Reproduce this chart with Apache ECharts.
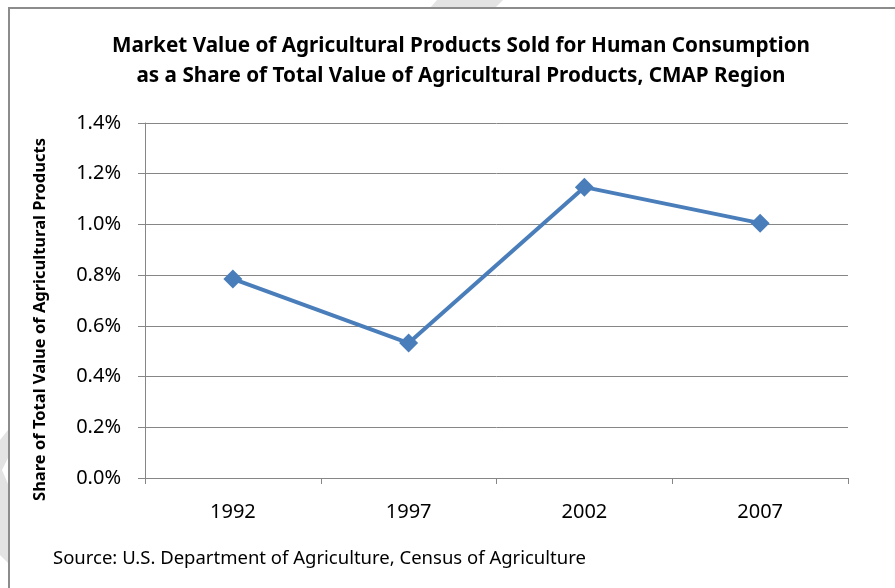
<!DOCTYPE html>
<html>
<head>
<meta charset="utf-8">
<script src="https://cdn.jsdelivr.net/npm/echarts@6/dist/echarts.min.js"></script>
<style>
html,body{margin:0;padding:0;background:#fff;}
#chart{width:895px;height:588px;}
</style>
</head>
<body>
<div id="chart"></div>
<script>
var titleLines = ['Market Value of Agricultural Products Sold for Human Consumption', 'as a Share of Total Value of Agricultural Products, CMAP Region'];
var categories = ['1992', '1997', '2002', '2007'];
var shareValues = [0.785, 0.532, 1.147, 1.005];
var yTicks = { min: 0, max: 1.4, interval: 0.2 };
var yAxisName = 'Share of Total Value of Agricultural Products';
var sourceText = 'Source: U.S. Department of Agriculture, Census of Agriculture';

var FONT = '"Noto Sans", "Open Sans", sans-serif';
var chart = echarts.init(document.getElementById('chart'), null, { renderer: 'canvas' });
chart.setOption({
  backgroundColor: '#ffffff',
  animation: false,
  title: {
    text: titleLines.join('\n'),
    left: 456,
    top: 26,
    padding: 5,
    textAlign: 'center',
    textStyle: { fontFamily: FONT, fontSize: 20.7, fontWeight: 'bold', color: '#000', lineHeight: 30 }
  },
  graphic: [
    { type: 'polygon', shape: { points: [[437,0],[503,0],[495,8],[430,8]] }, style: { fill: '#e3e3e3' }, z: 0 },
    { type: 'polygon', shape: { points: [[0,440],[8,430],[8,458],[2,470],[8,484],[8,563],[0,555]] }, style: { fill: '#e3e3e3' }, z: 0 },
    { type: 'polyline', shape: { points: [[9,588],[9,8],[895,8]] }, style: { stroke: '#8c8c8c', lineWidth: 2, fill: null }, z: 1 },
    { type: 'text', left: 53, top: 549, style: { text: sourceText, fontFamily: FONT, fontSize: 18.5, fill: '#000' } }
  ],
  grid: { left: 145, right: 47, top: 123, bottom: 110 },
  xAxis: {
    type: 'category',
    data: categories,
    boundaryGap: true,
    axisLine: { lineStyle: { color: '#868686', width: 1 } },
    axisTick: { show: true, length: 6, lineStyle: { color: '#868686' } },
    axisLabel: { fontFamily: FONT, fontSize: 20, color: '#000', margin: 24 }
  },
  yAxis: {
    type: 'value',
    min: yTicks.min, max: yTicks.max, interval: yTicks.interval,
    name: yAxisName,
    nameLocation: 'middle',
    nameGap: 96,
    nameTextStyle: { fontFamily: FONT, fontSize: 16.5, fontWeight: 'bold', color: '#000', padding: [0, 38, 0, 0] },
    axisLine: { show: true, lineStyle: { color: '#868686', width: 1 } },
    axisTick: { show: true, length: 7, lineStyle: { color: '#868686' } },
    axisLabel: { fontFamily: FONT, fontSize: 20, color: '#000', margin: 24,
      formatter: function (v) { return v.toFixed(1) + '%'; } },
    splitLine: { show: true, lineStyle: { color: '#868686', width: 1 } }
  },
  series: [{
    type: 'line',
    data: shareValues,
    symbol: 'diamond',
    symbolSize: 19,
    lineStyle: { color: '#4a7ebb', width: 4 },
    itemStyle: { color: '#4a7ebb' }
  }]
});
</script>
</body>
</html>
